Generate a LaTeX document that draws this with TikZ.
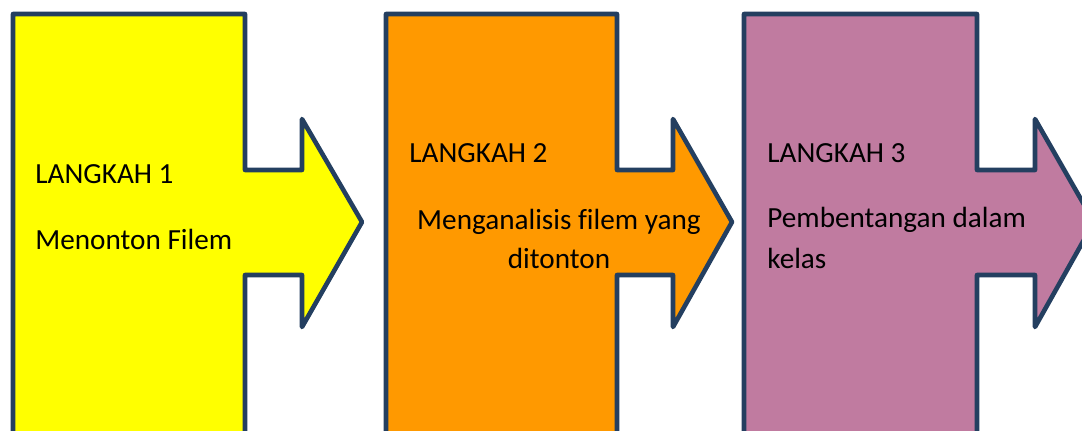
\documentclass[tikz,border=0pt]{standalone}
\usepackage{fontspec}
\setmainfont{Carlito}[Ligatures=NoCommon]
\definecolor{edgeblue}{HTML}{243F60}
\definecolor{stepyellow}{HTML}{FFFF00}
\definecolor{steporange}{HTML}{FF9900}
\definecolor{stepmauve}{HTML}{C07BA0}
\tikzset{
  stepshape/.style={draw=edgeblue, line width=2.3pt, line join=round},
  steptext/.style={anchor=base west, inner sep=0pt, font=\fontsize{14.6}{20}\selectfont}
}
\begin{document}
\begin{tikzpicture}[x=0.5pt, y=-0.5pt]

    % Page frame, the shapes run past the bottom edge
    \clip (0,0) rectangle (1082,430);

    % Yellow arrow for step 1
    \draw[stepshape, fill=stepyellow] (13,445) -- (13,14) -- (245,14) -- (245,170) -- (302,170) -- (302,119)
        -- (362,222) -- (302,327) -- (302,275) -- (245,275) -- (245,445);

    % Orange arrow for step 2
    \draw[stepshape, fill=steporange] (386,445) -- (386,14) -- (617,14) -- (617,170) -- (673,170) -- (673,119)
        -- (732,222) -- (673,327) -- (673,275) -- (617,275) -- (617,445);

    % Mauve arrow for step 3
    \draw[stepshape, fill=stepmauve] (744,445) -- (744,14) -- (977,14) -- (977,170) -- (1035,170) -- (1035,119)
        -- (1094,222) -- (1035,327) -- (1035,275) -- (977,275) -- (977,445);

    % Texts of step 1
    \node[steptext] (title1) at (35,183) {LANGKAH 1};
    \node[steptext] (desc1) at (35,249) {Menonton Filem};

    % Texts of step 2
    \node[steptext] (title2) at (409,162) {LANGKAH 2};
    \node[steptext, anchor=base] (desc2a) at (559,229) {Menganalisis filem yang};
    \node[steptext, anchor=base] (desc2b) at (559,268) {ditonton};

    % Texts of step 3
    \node[steptext] (title3) at (767,162) {LANGKAH 3};
    \node[steptext] (desc3a) at (767,227) {Pembentangan dalam};
    \node[steptext] (desc3b) at (767,268) {kelas};

\end{tikzpicture}
\end{document}
